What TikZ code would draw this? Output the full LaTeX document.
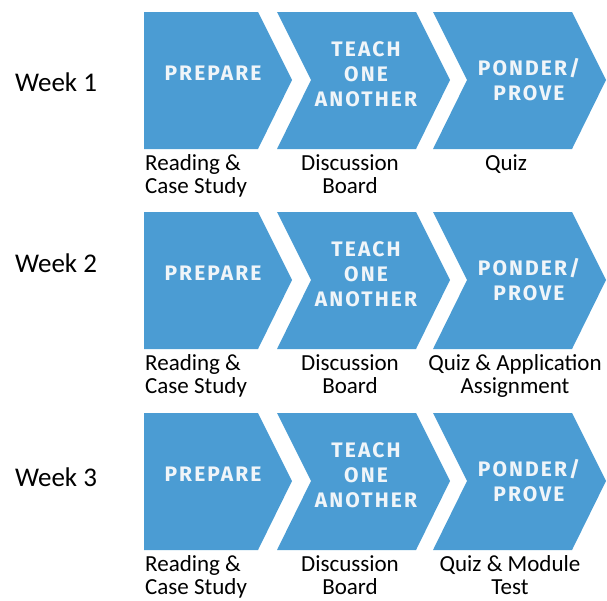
\documentclass[tikz,border=0pt]{standalone}
\usepackage{fontspec}
\setmainfont{Carlito}
\newfontfamily\chevfont[LetterSpace=10]{Fira Sans}
\usepackage{tikz}
\usetikzlibrary{calc}
\definecolor{chevblue}{RGB}{75,156,211}
\definecolor{chevwhite}{RGB}{240,245,249}
\tikzset{
    chev/.style={fill=chevblue},
    chevtext/.style={text=chevwhite, inner sep=0pt, align=center, font=\chevfont\bfseries\fontsize{21}{25}\selectfont},
    note/.style={inner sep=0pt, font=\fontsize{23}{23}\selectfont},
    week/.style={inner sep=0pt, font=\fontsize{27}{30}\selectfont},
}

\begin{document}
\begin{tikzpicture}[x=1pt, y=-1pt]
    \useasboundingbox (0,0) rectangle (607,600);
    \foreach[count=\i] \ytop/\wky/\qx/\quiztext in {12/82/506/{Quiz}, 212/263/515/{Quiz \& Application\\Assignment}, 413/477/510/{Quiz \& Module\\Test}} {
        \foreach \lx/\rx/\nd in {144/258/0, 277/416/34, 433/572/34} {
            \fill[chev] (\lx,\ytop) -- (\rx,\ytop) -- (\rx+34,\ytop+68) -- (\rx,\ytop+137) -- (\lx,\ytop+137) -- (\lx+\nd,\ytop+68) -- cycle;
        }
        \node[week] (week-\i) at (56,\wky) {Week \i};
        \node[chevtext] (prep-\i) at (213,\ytop+61) {PREPARE};
        \node[chevtext] (teach-\i) at (366,\ytop+62) {TEACH\\ONE\\ANOTHER};
        \node[chevtext] (ponder-\i) at (529,\ytop+68) {PONDER/\\PROVE};
        \node[note, align=left, anchor=north west] (read-\i) at (145,\ytop+142) {Reading \&\\Case Study};
        \node[note, align=center, anchor=north] (disc-\i) at (350,\ytop+142) {Discussion\\Board};
        \node[note, align=center, anchor=north] (quiz-\i) at (\qx,\ytop+142) {\quiztext};
    }
\end{tikzpicture}
\end{document}
